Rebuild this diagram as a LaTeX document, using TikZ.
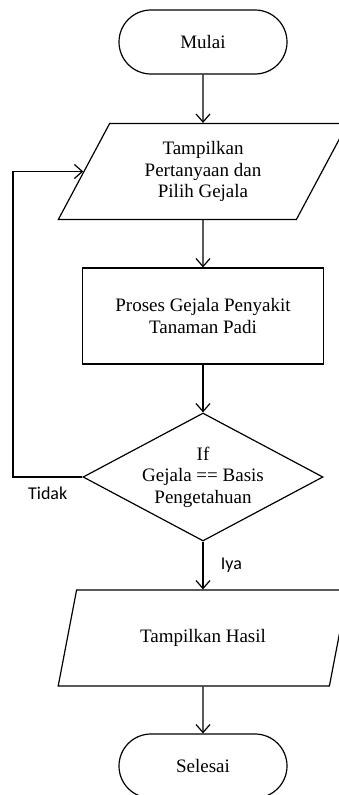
\documentclass[tikz,border=0pt]{standalone}
\usepackage{fontspec}
\setmainfont{Liberation Serif}
\newfontfamily\labelfont{Carlito}
\usetikzlibrary{arrows.meta,shapes.geometric}

\begin{document}
\begin{tikzpicture}[x=1pt, y=1pt, line width=1.2pt,
  >={Straight Barb[length=8pt,width=14pt]},
  every node/.style={font=\fontsize{19}{21.5}\selectfont, align=center},
  terminal/.style={draw, rectangle, rounded corners=32pt, minimum width=168pt, minimum height=64pt, inner sep=0pt},
  io/.style={draw, trapezium, trapezium left angle=62, trapezium right angle=118, trapezium stretches=true, minimum width=290pt, minimum height=96pt, inner sep=0pt},
  proses/.style={draw, rectangle, minimum width=241pt, minimum height=96pt, inner sep=0pt},
  keputusan/.style={draw, diamond, aspect=1.875, minimum width=240pt, minimum height=128pt, inner sep=0pt},
  cabang/.style={font=\labelfont\fontsize{18}{20}\selectfont}]
\useasboundingbox (0,0) rectangle (339,-795);

\node (mulai) at (203,-42) [terminal] {Mulai};
\node (tanya) at (203,-171.5) [io] {Tampilkan\\Pertanyaan dan\\Pilih Gejala};
\node (proses) at (203,-316) [proses] {Proses Gejala Penyakit\\Tanaman Padi};
\node (cek) at (203,-477) [keputusan] {If\\Gejala == Basis\\Pengetahuan};
\node (hasil) at (203,-638) [io] {Tampilkan Hasil};
\node (selesai) at (203,-766) [terminal] {Selesai};
\coordinate (kiri) at (13,-477);

\draw [->] (mulai) -- (tanya);
\draw [->] (tanya) -- (proses);
\draw [->] (proses) -- (cek);
\draw [->] (cek) -- (hasil) node[midway, right=14pt, cabang] (iya) {Iya};
\draw [->] (hasil) -- (selesai);
\draw [->] (cek.west) -- (kiri) node[midway, below=6pt, cabang] (tidak) {Tidak} |- (tanya.west);
\end{tikzpicture}
\end{document}
